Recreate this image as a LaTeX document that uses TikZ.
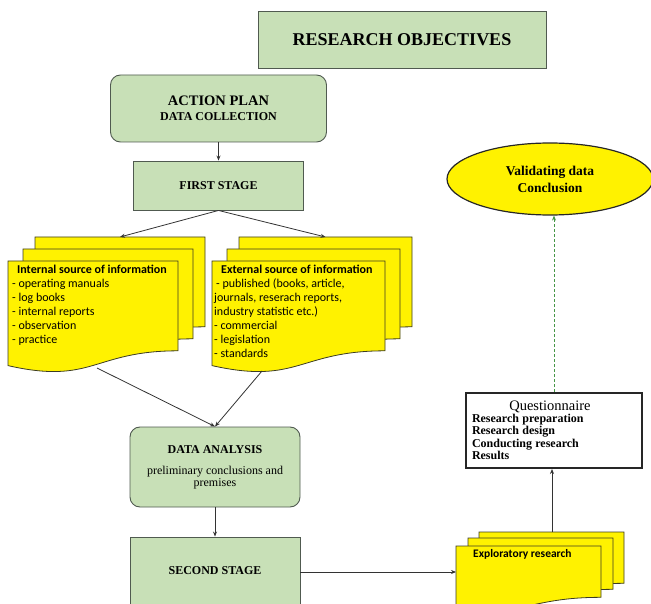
\documentclass[tikz,border=0pt]{standalone}
\usepackage{fontspec}
\setmainfont{Liberation Serif}
\newfontfamily\calib{Carlito}
\usetikzlibrary{shapes.geometric,arrows.meta}
\definecolor{gfill}{RGB}{200,224,183}
\definecolor{gdraw}{RGB}{80,90,80}
\definecolor{ydraw}{RGB}{60,60,35}
\definecolor{dgreen}{RGB}{70,150,70}
\newcommand{\docpage}[4]{%
  \filldraw[docpg] (#1,#2) -- ++(#3,0) -- ++(0,{0.802*#4})
    .. controls ({#1+0.5*#3},{#2+0.802*#4}) and ({#1+0.5*#3},{#2+1.107*#4}) ..
    (#1,{#2+0.934*#4}) -- cycle;}
\begin{document}
\begin{tikzpicture}[x=1pt,y=-1pt,
  gbox/.style={draw=gdraw, fill=gfill, line width=0.9pt, inner sep=2pt, align=center},
  docpg/.style={draw=ydraw, fill=yellow, line width=0.8pt},
  ytext/.style={font=\calib\fontsize{12}{13.9}\selectfont, align=left, inner sep=0pt, anchor=north west},
  arr/.style={draw=black!80, line width=0.8pt, -{Stealth[length=5pt,width=4pt]}},
  plain/.style={draw=black!75, line width=0.8pt}]
\useasboundingbox (0,0) rectangle (651,604);

% green boxes
\node[gbox, minimum width=288pt, minimum height=57pt, font=\fontsize{18}{20}\selectfont\bfseries] (obj) at (402,39.5) {RESEARCH OBJECTIVES};
\node[gbox, rounded corners=10pt, minimum width=216pt, minimum height=67pt] (plan) at (218.5,108.5)
  {{\fontsize{14.5}{16}\selectfont\bfseries ACTION PLAN}\\[3pt]{\fontsize{12}{14}\selectfont\bfseries DATA COLLECTION}};
\node[gbox, minimum width=170pt, minimum height=49pt, font=\fontsize{12}{14}\selectfont\bfseries] (first) at (218.5,185.5) {FIRST STAGE};
\node[gbox, rounded corners=10pt, minimum width=170pt, minimum height=80pt] (analysis) at (215,467)
  {{\fontsize{12}{14}\selectfont\bfseries DATA ANALYSIS}\\[9pt]{\fontsize{12}{14}\selectfont preliminary conclusions and}\\{\fontsize{12}{14}\selectfont premises}};
\node[gbox, minimum width=170pt, minimum height=68pt, font=\fontsize{12}{14}\selectfont\bfseries] (second) at (215,571) {SECOND STAGE};

% ellipse
\node[ellipse, draw=black!85, fill=yellow, line width=1.2pt, minimum width=206pt, minimum height=72pt, inner sep=0pt, align=center,
  font=\fontsize{13.5}{17}\selectfont\bfseries] (valid) at (550,179) {Validating data\\Conclusion};

% questionnaire
\node[draw=black!85, fill=white, line width=2pt, minimum width=176pt, minimum height=75pt, text width=164pt, inner xsep=6pt, align=left] (quest) at (554,430.5)
  {\makebox[156pt][c]{\fontsize{14.5}{15}\selectfont Questionnaire}\\[-1pt]
   {\fontsize{12}{12.5}\selectfont\bfseries Research preparation\\Research design\\Conducting research\\Results}};

% document stacks
\docpage{35}{237}{170}{112}
\docpage{23}{249}{170}{112}
\docpage{8}{261}{170}{112}
\docpage{239}{237}{173}{112}
\docpage{227}{249}{173}{112}
\docpage{212}{261}{173}{112}
\docpage{479}{532}{145}{64}
\docpage{468}{538}{145}{64}
\docpage{456}{546}{145}{64}

\node[ytext] (intext) at (12,265) {\hspace*{5pt}\textbf{Internal source of information}\\- operating manuals\\- log books\\- internal reports\\- observation\\- practice};
\node[ytext] (extext) at (214,265) {\hspace*{7pt}\textbf{External source of information}\\\hspace*{2pt}- published (books, article,\\journals, reserach reports,\\industry statistic etc.)\\- commercial\\- legislation\\- standards};
\node[font=\calib\fontsize{11.5}{12}\selectfont\bfseries, anchor=west, inner sep=0pt] (exptext) at (473,554) {Exploratory research};

% connector coordinates
\coordinate (lback) at (120,237);
\coordinate (rback) at (325.5,237);
\coordinate (lbot) at (97,368);
\coordinate (rbot) at (262,371);
\coordinate (expl) at (456,572);
\coordinate (exptop) at (552,532);

% connectors
\draw[arr] (plan.south) -- (first.north);
\draw[arr] (first.south) -- (lback);
\draw[arr] (first.south) -- (rback);
\draw[arr] (lbot) -- (analysis.north);
\draw[arr] (rbot) -- (analysis.north);
\draw[arr] (analysis.south) -- (second.north);
\draw[arr] (second.east |- expl) -- (expl);
\draw[arr] (exptop) -- (exptop |- quest.south);
\draw[draw=dgreen, line width=0.9pt, dash pattern=on 3pt off 2pt, -{Stealth[length=5pt,width=4pt]}] (quest.north) -- (quest.north |- valid.south);
\end{tikzpicture}
\end{document}
